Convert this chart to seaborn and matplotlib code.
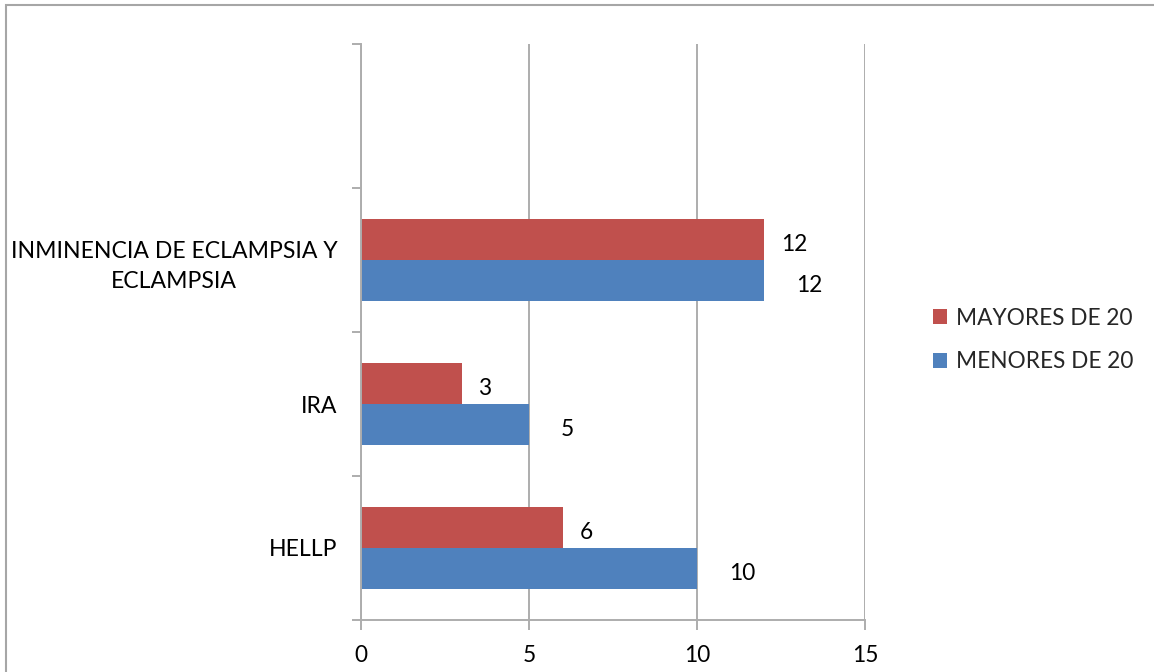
import matplotlib
matplotlib.use("Agg")
import matplotlib.pyplot as plt
from matplotlib.patches import Rectangle
from matplotlib.ticker import FixedLocator
import seaborn as sns
import pandas as pd

# Complications by age group
categories = ["INMINENCIA DE ECLAMPSIA Y\nECLAMPSIA", "IRA", "HELLP"]
mayores_de_20 = [12, 3, 6]
menores_de_20 = [12, 5, 10]
series_names = ["MAYORES DE 20", "MENORES DE 20"]
x_ticks = [0, 5, 10, 15]

df = pd.DataFrame({
    "categoria": categories * 2,
    "grupo": [series_names[0]] * len(categories) + [series_names[1]] * len(categories),
    "valor": mayores_de_20 + menores_de_20,
})

sns.set_theme(style="white")
plt.rcParams["font.family"] = ["Lato", "DejaVu Sans"]

W, H = 1154, 672
FS = 16.3
fig = plt.figure(figsize=(W / 100, H / 100), dpi=100)
fig.patch.set_facecolor("white")
ax = fig.add_axes([361 / W, 1 - 620 / H, (865 - 361) / W, (620 - 44) / H])

colors = {series_names[0]: "#C0504D", series_names[1]: "#4F81BD"}
sns.barplot(data=df, y="categoria", x="valor", hue="grupo", order=categories,
            hue_order=series_names, palette=colors, orient="h", width=0.57,
            gap=0, saturation=1, linewidth=0, ax=ax, legend=True, errorbar=None)

grid_c = "#ADADAD"
ax.set_xlim(0, 15)
ax.set_ylim(len(categories) - 0.5, -1.5)
ax.set_xticks(x_ticks)
ax.set_xticklabels([str(t) for t in x_ticks])
ax.xaxis.grid(True, color=grid_c, linewidth=1.4)
ax.set_axisbelow(True)
ax.set_xlabel("")
ax.set_ylabel("")

for s in ["top", "right"]:
    ax.spines[s].set_visible(False)
for s in ["left", "bottom"]:
    ax.spines[s].set_color(grid_c)
    ax.spines[s].set_linewidth(1.4)

# category labels centered on slots, tick marks on slot boundaries
ax.set_yticks(range(len(categories)))
ax.set_yticklabels(categories, fontsize=FS + 0.3, color="black",
                   multialignment="center", linespacing=1.5)
ax.tick_params(axis="y", which="major", length=0, pad=17)
ax.yaxis.set_minor_locator(FixedLocator([i - 0.5 for i in range(-1, len(categories) + 1)]))
ax.tick_params(axis="y", which="minor", left=True, length=6.5, width=1.4, color=grid_c)
ax.tick_params(axis="x", which="major", bottom=True, length=7, width=1.4, color=grid_c,
               labelsize=FS, labelcolor="black", pad=11)

# value labels
offsets = {series_names[0]: 12, series_names[1]: 23}
for container, name in zip(ax.containers, series_names):
    vals = mayores_de_20 if name == series_names[0] else menores_de_20
    for bar, v in zip(container, vals):
        ax.annotate(str(v), (bar.get_width(), bar.get_y() + bar.get_height() / 2),
                    xytext=(offsets[name], -3.5), textcoords="offset points",
                    ha="left", va="center", fontsize=FS, color="black")

leg = ax.legend(loc="center left", bbox_to_anchor=(922 / W, 1 - 340 / H),
                bbox_transform=fig.transFigure, frameon=False, fontsize=FS,
                handlelength=0.62, handleheight=0.62, handletextpad=0.4,
                labelspacing=1.0, borderpad=0)

# chart area border
fig.add_artist(Rectangle((6 / W, -0.1), 1.2, 1 - 5 / H + 0.1, transform=fig.transFigure,
                         fill=False, edgecolor="#A6A6A6", linewidth=1.5))

fig.savefig("out.png", dpi=100, facecolor="white")
